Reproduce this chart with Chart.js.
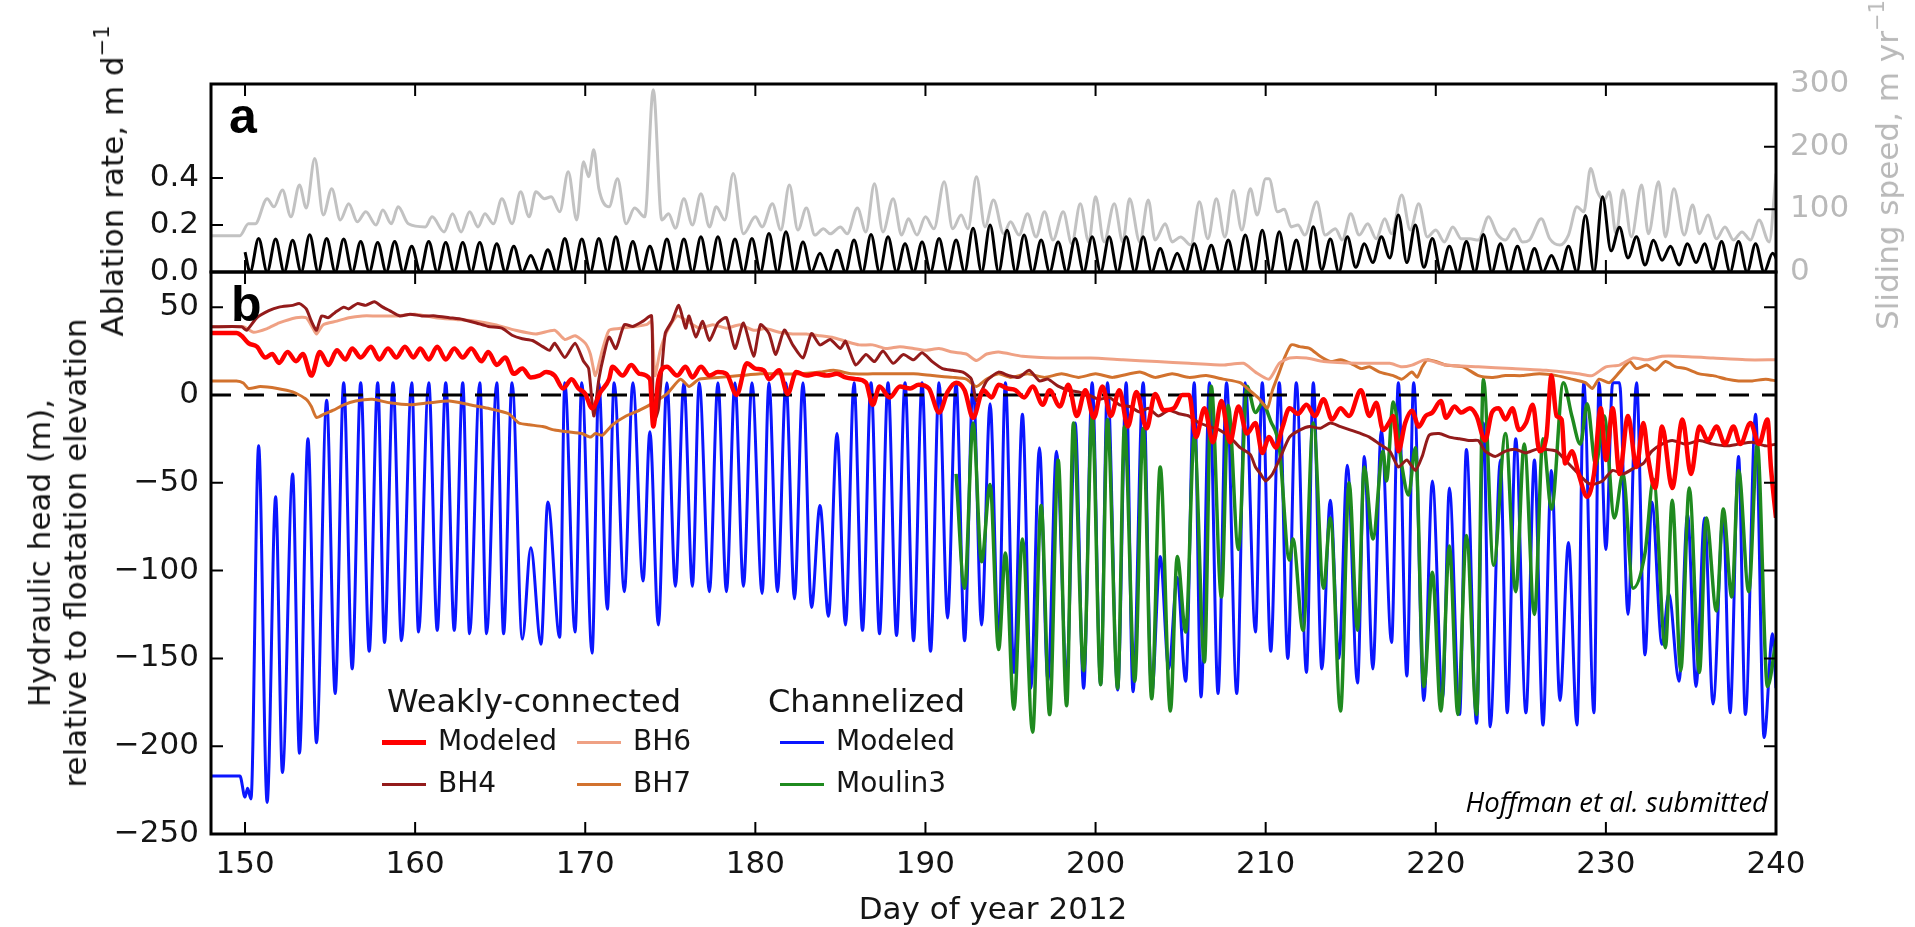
<!DOCTYPE html>
<html>
<head>
<meta charset="utf-8">
<script src="https://cdn.jsdelivr.net/npm/chart.js@4.4.1/dist/chart.umd.min.js"></script>
<style>
  body { margin: 0; background: #fff; }
  #wrap { position: relative; width: 1915px; height: 927px; overflow: hidden; font-family: 'DejaVu Sans', sans-serif; color: #151515; }
  #wrap canvas { position: absolute; left: 0; top: 0; }
  .txt { position: absolute; white-space: nowrap; }
  .rot { transform: translate(-50%, -50%) rotate(-90deg); text-align: center; }
  .rot sup { font-size: 21px; vertical-align: 14px; line-height: 0; }
  .panel { font-family: 'Liberation Sans', Arial, sans-serif; font-weight: bold; font-size: 50px; line-height: 50px; color: #000; }
  .lg { position: absolute; white-space: nowrap; line-height: 40px; }
  .sw { position: absolute; }
</style>
</head>
<body>
<div id="wrap">
  <canvas id="panelA" width="1915" height="927"></canvas>
  <canvas id="panelB" width="1915" height="927"></canvas>

  <div class="txt rot" style="left:112px; top:181px; font-size:31px;">Ablation rate, m d<sup>−1</sup></div>
  <div class="txt rot" style="left:1887px; top:165px; font-size:31px; color:#b9b9b9;">Sliding speed, m yr<sup>−1</sup></div>
  <div class="txt rot" style="left:57px; top:553px; font-size:31px; line-height:36px;">Hydraulic head (m),<br>relative to floatation elevation</div>
  <div class="txt" style="left:993px; top:908px; font-size:31px; transform:translate(-50%,-50%);">Day of year 2012</div>
  <div class="txt panel" style="left:229px; top:91px;">a</div>
  <div class="txt panel" style="left:231px; top:279px;">b</div>
  <div class="txt" style="right:147px; top:785px; font-family:'Open Sans', sans-serif; font-style:italic; font-size:27.5px; line-height:34px; color:#000;">Hoffman et al. submitted</div>
  <div id="legend"></div>
</div>

<script>
// x axis: day of year
const dayTicks = [150, 160, 170, 180, 190, 200, 210, 220, 230, 240];
const ablTicks = [0, 0.2, 0.4];
const slideTicks = [0, 100, 200, 300];
const headTicks = [-250, -200, -150, -100, -50, 0, 50];

// ablation rate (m/d): start of record, then daily maxima and the minima that follow
const ablationOnset = [[150.0, 0.085], [150.3, 0]];
const ablationPeak = [
  0.143, 0.14, 0.135, 0.158, 0.143, 0.14, 0.13, 0.126, 0.13, 0.11,
  0.13, 0.126, 0.126, 0.126, 0.12, 0.11, 0.07, 0.095, 0.143, 0.14,
  0.143, 0.15, 0.13, 0.11, 0.14, 0.14, 0.15, 0.15, 0.14,
  0.143, 0.164, 0.171, 0.128, 0.08, 0.093, 0.136, 0.16, 0.15, 0.12,
  0.128, 0.143, 0.136, 0.186, 0.2, 0.178, 0.157, 0.136, 0.128, 0.143,
  0.15, 0.15, 0.15, 0.15, 0.1, 0.08, 0.12, 0.114, 0.136, 0.157, 0.178, 0.171,
  0.136, 0.193, 0.14, 0.15, 0.12, 0.15, 0.243, 0.2, 0.143, 0.11,
  0.13, 0.16, 0.12, 0.11, 0.1, 0.07, 0.11, 0.24, 0.32, 0.19,
  0.15, 0.135, 0.11, 0.12, 0.12, 0.13, 0.13, 0.12, 0.08
];
const ablationLow = [
  0, 0, 0, 0, 0, 0, 0, 0, 0, 0,
  0, 0, 0, 0, 0, 0, 0, 0, 0, 0,
  0, 0, 0, 0, 0, 0, 0, 0, 0, 0,
  0, 0, 0, 0, 0, 0, 0, 0, 0, 0,
  0, 0, 0, 0, 0, 0, 0, 0, 0, 0,
  0, 0, 0, 0, 0, 0, 0, 0, 0, 0,
  0, 0, 0.01, 0, 0.02, 0.04, 0.06, 0.04, 0.02, 0,
  0, 0, 0, 0, 0, 0, 0, 0, 0, 0.09,
  0.06, 0.03, 0.05, 0.03, 0.04, 0.01, 0, 0, 0, 0
];

// sliding speed (m/yr)
const slidingSpeed = [
  [148, 58], [149.7, 58], [150.2, 77], [150.6, 77], [151.3, 117], [151.7, 104], [152.2, 131], [152.7, 88],
  [153.2, 139], [153.6, 102], [154.1, 181], [154.6, 91], [155.1, 133], [155.6, 83], [156.1, 109], [156.6, 80],
  [157.1, 96], [157.7, 75], [158.1, 99], [158.6, 77], [159.0, 104], [159.6, 77], [160.6, 72], [161.0, 88],
  [161.7, 64], [162.2, 93], [162.7, 64], [163.2, 96], [163.7, 72], [164.1, 93], [164.6, 77], [165.1, 117],
  [165.7, 77], [166.2, 128], [166.7, 88], [167.1, 128], [167.6, 117], [168.0, 120], [168.5, 96], [169.0, 160],
  [169.5, 83], [169.9, 176], [170.2, 152], [170.5, 195], [170.8, 133], [171.4, 104], [171.9, 149], [172.4, 77],
  [172.9, 102], [173.5, 88], [174.0, 291], [174.5, 83], [174.9, 93], [175.3, 70], [175.8, 117], [176.3, 75],
  [176.8, 125], [177.3, 72], [177.7, 104], [178.2, 83], [178.7, 157], [179.3, 61], [180.0, 88], [180.4, 72],
  [181.0, 109], [181.5, 67], [182.0, 139], [182.5, 67], [183.0, 102], [183.5, 59], [184.0, 69], [184.4, 61],
  [185.0, 72], [185.4, 61], [186.0, 102], [186.5, 64], [187.0, 141], [187.5, 64], [188.1, 117], [188.6, 59],
  [189.0, 85], [189.5, 59], [190.0, 88], [190.5, 69], [191.1, 144], [191.6, 69], [192.1, 91], [192.5, 69],
  [193.0, 152], [193.5, 72], [194.0, 115], [194.6, 61], [195.0, 80], [195.5, 59], [196.0, 93], [196.5, 56],
  [197.0, 96], [197.5, 51], [198.1, 96], [198.6, 45], [199.1, 109], [199.6, 48], [200.0, 120], [200.5, 48],
  [201.1, 109], [201.6, 48], [202.0, 117], [202.6, 48], [203.1, 115], [203.5, 51], [204.1, 77], [204.5, 48],
  [205.0, 56], [205.6, 43], [206.1, 112], [206.6, 53], [207.1, 117], [207.6, 56], [208.1, 130], [208.6, 67],
  [209.1, 133], [209.5, 91], [210.0, 149], [210.2, 149], [210.7, 96], [211.1, 100], [211.5, 72], [211.9, 75],
  [212.3, 59], [213.0, 112], [213.5, 59], [214.1, 69], [214.5, 51], [215.0, 93], [215.5, 59], [216.0, 77],
  [216.5, 53], [217.0, 85], [217.4, 61], [218.0, 123], [218.5, 67], [219.0, 109], [219.5, 56], [220.0, 67],
  [220.5, 48], [221.0, 72], [221.5, 53], [222.0, 53], [222.5, 51], [223.1, 88], [223.6, 61], [224.1, 51],
  [224.6, 69], [225.1, 48], [225.5, 51], [226.2, 85], [226.7, 53], [227.3, 43], [227.8, 59], [228.3, 104],
  [228.7, 96], [229.1, 165], [229.5, 128], [229.9, 115], [230.2, 128], [230.6, 61], [231.0, 131], [231.5, 56],
  [232.1, 139], [232.5, 61], [233.1, 144], [233.5, 56], [234.0, 133], [234.6, 59], [235.1, 107], [235.5, 61],
  [236.0, 91], [236.5, 53], [237.0, 72], [237.5, 51], [238.0, 64], [238.5, 51], [239.0, 83], [239.6, 48],
  [240.0, 157]
];

// hydraulic head (m), weakly-connected system
const weakModeled = [
  [148, 35.3], [149.5, 35.3], [149.8, 33.7], [150.2, 29.5], [150.7, 27.5], [151.2, 21.3], [151.6, 23.3], [152, 18.2],
  [152.5, 24.4], [153, 19.2], [153.4, 23.3], [153.9, 11], [154.4, 24.4], [154.9, 17.1], [155.4, 25.4], [155.9, 20.2],
  [156.3, 26.4], [156.8, 21.3], [157.4, 27.5], [157.9, 20.2], [158.4, 26.4], [158.9, 21.3], [159.4, 27.5], [159.9, 21.3],
  [160.3, 26.4], [160.8, 20.2], [161.3, 27.5], [161.8, 20.2], [162.3, 26.4], [162.8, 21.3], [163.3, 26.4], [163.9, 19.2],
  [164.3, 24.4], [164.8, 17.1], [165.3, 21.3], [165.8, 12], [166.3, 15], [166.8, 9.9], [167.3, 11], [167.7, 13],
  [168.2, 11], [168.7, 3.7], [169.2, 8.9], [169.6, 3.7], [170, 0.6], [170.4, -7.6], [170.9, 1.7], [171.4, 8.9],
  [171.6, 16], [172.2, 11], [172.7, 17], [173.2, 12], [173.8, 9], [174.0, -18], [174.3, 9], [174.8, 16],
  [175.4, 11], [175.9, 16], [176.3, 10], [176.8, 16], [177.3, 11], [177.8, 13], [178.3, 12], [178.9, 0],
  [179.5, 18], [180, 15], [180.5, 14], [180.8, 9], [181.4, 14], [181.9, 0.6], [182.4, 13], [183, 11],
  [183.6, 12], [184.2, 11], [184.8, 12], [185.3, 10], [185.9, 9], [186.5, 7], [186.9, -5.6], [187.3, 4.8],
  [187.9, -1.4], [188.5, 4.8], [189.1, 3.7], [189.6, 5.8], [190.2, 3.7], [190.8, -10], [191.3, 1.7], [191.8, 7],
  [192.3, 2.7], [192.8, -13], [193.4, 2.7], [193.9, -1.4], [194.3, 5.8], [194.8, 3.7], [195.3, 2.7], [195.8, -1.4],
  [196.3, 4.8], [196.9, -5.6], [197.3, 2.7], [197.9, -6.6], [198.4, 5.8], [198.9, -12], [199.4, 2.7], [199.9, -13],
  [200.4, 4.8], [200.9, -12], [201.4, 2.7], [201.9, -18], [202.4, 1.7], [203, -19], [203.5, 0.6], [204, -8.7],
  [204.6, -7.6], [205.1, 0], [205.5, 0], [205.9, -24], [206.4, -7.6], [206.9, -27], [207.4, -3.5], [207.9, -27],
  [208.4, -6.6], [208.9, -22], [209.4, -16], [209.8, -33], [210.2, -24], [210.6, -30], [211, -18], [211.4, -7.6],
  [211.9, -10.7], [212.4, -5.6], [212.9, -12], [213.4, -2.5], [213.9, -14], [214.4, -7.6], [214.9, -12], [215.6, 2.7],
  [216.1, -12], [216.5, -4.5], [216.9, -20], [217.3, -15], [217.5, -12], [217.8, -32], [218.2, -16], [218.6, -9],
  [219, -18], [219.4, -12], [219.8, -10], [220.3, -3.5], [220.6, -13], [221.1, -6.6], [221.5, -10], [222, -7.6],
  [222.4, -12], [222.9, -26], [223.3, -10], [223.7, -7.6], [224.1, -14], [224.5, -7.6], [224.9, -20], [225.3, -16],
  [225.7, -5.6], [226.1, -32], [226.5, -24], [226.8, 11], [227.1, -12], [227.4, -14], [227.6, -39], [228, -32],
  [228.4, -45], [228.9, -58], [229.3, -45], [229.7, -7.6], [230, -37], [230.4, -7.6], [230.8, -45], [231.3, -12],
  [231.8, -41], [232.2, -16], [232.5, -37], [232.9, -53], [233.3, -18], [233.9, -53], [234.5, -14], [235, -45],
  [235.5, -18], [236, -26], [236.5, -18], [237, -28], [237.5, -18], [237.9, -28], [238.5, -16], [239, -28],
  [239.5, -14], [239.7, -41], [240, -70]
];
const bh4 = [
  [148, 38.8], [149.8, 38.8], [150.1, 36.8], [150.7, 44], [151.4, 48], [152, 50], [152.8, 51], [153.2, 52],
  [153.6, 49], [153.9, 42], [154.2, 36.8], [154.5, 45], [154.9, 44], [155.3, 47], [155.8, 50], [156.1, 49],
  [156.6, 52], [157.1, 51], [157.6, 53], [158.1, 50], [158.5, 48], [159.1, 45], [159.7, 46], [160.4, 45],
  [161.2, 45], [162, 44], [162.8, 43], [163.6, 41], [164.3, 39], [165.1, 38], [165.7, 34], [166.3, 32],
  [166.9, 31], [167.5, 27.5], [167.9, 25.4], [168.2, 29.5], [168.8, 21.3], [169.4, 29.5], [169.9, 19.2], [170.2, 15],
  [170.5, -12], [170.8, 9], [171.1, 23], [171.4, 33], [171.8, 26.4], [172.3, 40], [172.8, 39], [173.4, 42],
  [173.9, 45], [174.0, -16], [174.3, -8], [174.7, 35], [175.1, 42], [175.5, 51], [175.9, 38], [176.1, 45],
  [176.5, 33], [176.9, 42], [177.3, 31], [177.8, 41], [178.3, 44], [178.8, 26.4], [179.3, 41], [179.9, 22],
  [180.3, 40], [180.8, 35], [181.2, 23], [181.7, 37], [182.2, 28.5], [182.8, 21], [183.3, 35], [183.8, 28.5],
  [184.4, 31.6], [185, 26.4], [185.3, 30.6], [185.9, 17], [186.5, 23], [187, 19], [187.5, 25], [188.1, 18],
  [188.7, 23], [189.3, 20], [189.8, 24], [190.4, 19], [191, 15], [191.6, 14], [192.2, 13], [192.7, 9],
  [193, -3.5], [193.6, 8], [194.3, 13], [194.9, 11], [195.5, 10], [196.1, 14], [196.7, 8], [197.2, 9],
  [197.8, 5], [198.4, 2.7], [199, 1.7], [199.6, 0], [200.2, -2.5], [200.8, -1.4], [201.4, -5.6], [202, -6.6],
  [202.6, -9.7], [203.1, -7.6], [203.7, -12], [204.3, -8.7], [204.9, -10.7], [205.5, -12], [206.1, -16], [206.7, -18],
  [207.3, -20], [207.9, -24], [208.5, -30], [209.1, -34], [209.4, -41], [209.7, -45], [210, -49], [210.4, -45],
  [210.8, -37], [211.4, -24], [212, -20], [212.6, -18], [213.2, -19], [213.8, -16], [214.4, -18], [215, -20],
  [215.6, -22], [216.1, -24], [216.7, -28], [217.3, -32], [217.8, -41], [218.3, -37], [218.8, -43], [219.2, -35],
  [219.6, -23], [220.2, -22], [220.8, -24], [221.4, -25], [222, -26], [222.5, -26], [222.9, -32], [223.5, -35],
  [224.1, -32], [224.7, -31], [225.3, -33], [225.9, -31], [226.5, -31], [227.1, -32], [227.6, -37], [228.2, -43],
  [228.8, -49], [229.2, -51], [229.8, -49], [230.4, -43], [231, -45], [231.6, -42], [232.2, -39], [232.7, -32],
  [233.3, -28], [233.9, -26], [234.7, -28], [235.5, -26], [236.3, -28], [237.1, -29], [237.8, -28], [238.6, -27],
  [239.4, -29], [240, -28]
];
const bh6 = [
  [148, 38.8], [149.9, 38.8], [150.5, 35.7], [151.3, 37.8], [152, 41], [153, 44], [153.6, 44], [154, 37.8],
  [154.2, 34.7], [154.6, 40], [155.4, 42], [156.1, 44], [156.9, 45], [157.7, 45], [158.9, 45], [160, 46],
  [161.2, 44], [162.4, 43], [163.6, 42], [164.7, 40], [165.9, 36.8], [167.1, 34.7], [168.2, 36.8], [168.8, 31.6],
  [169.4, 33.7], [170, 29.5], [170.3, 23.3], [170.6, 11], [171, 25.4], [171.4, 36.8], [172, 37.8], [172.8, 38.8],
  [173.6, 40], [173.9, 42], [174.1, 11], [174.4, 25], [174.8, 36], [175.4, 45], [176, 42], [176.7, 38],
  [177.5, 40], [178.3, 38], [179.1, 40], [179.9, 36.8], [180.6, 37.8], [181.4, 35.7], [182.2, 34.7], [183, 34.7],
  [183.8, 33.7], [184.6, 32.6], [185.3, 30.6], [186.1, 28.5], [186.9, 28.5], [187.7, 26.4], [188.5, 27.5], [189.3, 26.4],
  [190, 25.4], [190.8, 26.4], [191.6, 24.4], [192.4, 23.3], [193, 19.6], [193.6, 23.3], [194.3, 24.4], [195.7, 22],
  [197.7, 21], [199.7, 21], [201.6, 20], [203.6, 19], [205.5, 18], [207.5, 17], [208.7, 18], [209.4, 13],
  [210.2, 9], [210.8, 18], [211.4, 21], [212.4, 21], [213.4, 19], [215.4, 18], [217.3, 18], [218, 16],
  [218.6, 17], [219.4, 20], [220.6, 17], [222.5, 16], [224.5, 15], [226.5, 14], [228.4, 12], [229.2, 11],
  [230, 16], [230.8, 17], [231.6, 21], [232.4, 20], [233.3, 22], [234.3, 22], [236.3, 21], [238.2, 20],
  [240, 20]
];
const bh7 = [
  [148, 7.9], [149.5, 7.9], [149.9, 6.8], [150.2, 3.7], [150.9, 4.8], [151.9, 3.7], [152.8, 1.7], [153.6, -2.5],
  [153.9, -6.6], [154.2, -12.8], [154.7, -10.7], [155.2, -8.7], [155.8, -5.6], [156.5, -3.5], [157.5, -2.5], [158.5, -4.5],
  [159.7, -5.6], [160.8, -4.5], [162, -3.5], [163.2, -5.6], [164.3, -7.6], [165.5, -10.7], [166.1, -16], [166.7, -17],
  [167.5, -18], [168.2, -20], [169, -21], [169.8, -22], [170.3, -24], [170.6, -22], [171, -23], [171.6, -17],
  [172.4, -12], [173.2, -8.7], [174, -4.5], [174.8, 0.6], [175.6, 9], [176.1, 4.8], [176.7, 9], [177.9, 10],
  [179.1, 11], [180.3, 12], [181.4, 12], [182.6, 12], [183.8, 13], [184.6, 14], [185.7, 12], [186.9, 12],
  [188.1, 12], [189.3, 12], [190.4, 11], [191.6, 10], [192.4, 9], [193, 4.8], [193.6, 9], [194.3, 12],
  [195, 10], [196, 12], [197, 10], [198, 12], [199, 10], [200, 12], [201, 10], [202.6, 13],
  [203.5, 10], [204.5, 12], [205.5, 10], [206.5, 11], [207.5, 9], [208.5, 7], [209, 3], [209.6, -2],
  [210.1, -7.6], [210.4, 2.7], [210.8, 13], [211.1, 21], [211.5, 28.5], [212, 27.5], [212.6, 26.4], [213.2, 22],
  [213.8, 19], [214.4, 20], [215, 18], [215.6, 15], [216.1, 16], [216.7, 13], [217.5, 11], [218, 9],
  [218.6, 13], [218.9, 10], [219.2, 16], [219.5, 20], [220, 19], [220.6, 17], [221.6, 16], [222.5, 11],
  [223.3, 10], [224.1, 11], [225.1, 11], [226.1, 12], [227.1, 11], [228, 9], [228.8, 7], [229.2, 3.7],
  [229.6, 9], [230.2, 7], [230.8, 13], [231.4, 19], [231.8, 15], [232.4, 17], [232.9, 14], [233.5, 19],
  [234.1, 16], [234.7, 15], [235.5, 12], [236.3, 11], [237.1, 9], [237.8, 8], [238.6, 8], [239.4, 9],
  [240, 8]
];

// hydraulic head (m), channelized system
const channelModeled = [
  [148, -217], [149.7, -217], [150.0, -229], [150.15, -224], [150.35, -230],
  [150.8, -29], [151.3, -232], [151.8, -58], [152.2, -215], [152.8, -45], [153.2, -204], [153.7, -25], [154.2, -198],
  [154.8, -3], [155.3, -170], [155.8, 7], [156.3, -156], [156.8, 7], [157.3, -146], [157.8, 7], [158.2, -141],
  [158.7, 7], [159.2, -140], [159.8, 7], [160.2, -135], [160.8, 7], [161.3, -134], [161.8, 7], [162.3, -134],
  [162.8, 7], [163.2, -136], [163.8, 7], [164.2, -136], [164.8, 7], [165.2, -136], [165.7, 7], [166.3, -139],
  [166.8, -87], [167.4, -142], [167.8, -61], [168.5, -138], [168.8, 7], [169.4, -135], [169.8, 7], [170.4, -147],
  [170.8, 7], [171.3, -122], [171.7, 7], [172.3, -112], [172.8, 7], [173.4, -106], [173.8, -21], [174.3, -131],
  [174.8, 7], [175.3, -109], [175.8, 7], [176.3, -109], [176.7, 7], [177.3, -112], [177.8, 7], [178.3, -112],
  [178.8, 7], [179.3, -109], [179.8, 7], [180.4, -113], [180.8, 7], [181.3, -112], [181.8, 7], [182.3, -116],
  [182.8, 7], [183.3, -121], [183.8, -63], [184.3, -126], [184.8, -22], [185.3, -131], [185.8, 7], [186.3, -134],
  [186.8, 7], [187.3, -136], [187.8, 7], [188.3, -137], [188.8, 7], [189.3, -140], [189.8, 7], [190.3, -146],
  [190.8, 7], [191.3, -127], [191.8, 7], [192.3, -140], [192.8, 7], [193.3, -131], [193.8, -5], [194.3, -140],
  [194.7, 7], [195.2, -158], [195.7, -11], [196.2, -167], [196.7, -30], [197.2, -163], [197.7, -32], [198.3, -158],
  [198.8, -16], [199.3, -167], [199.8, 7], [200.3, -165], [200.7, 7], [201.3, -168], [201.8, 7], [202.2, -169],
  [202.8, 7], [203.3, -170], [203.8, -92], [204.3, -156], [204.8, -104], [205.3, -163], [205.8, 7], [206.2, -172],
  [206.7, 7], [207.2, -170], [207.7, 7], [208.3, -170], [208.8, 7], [209.4, -135], [209.8, 7], [210.3, -146],
  [210.8, 7], [211.3, -150], [211.8, 7], [212.4, -158], [212.8, 7], [213.3, -156], [213.8, -60], [214.3, -150],
  [214.8, -40], [215.4, -164], [215.8, -35], [216.3, -156], [216.8, -20], [217.4, -141], [217.8, 7], [218.3, -160],
  [218.7, 7], [219.3, -174], [219.8, -49], [220.4, -173], [220.8, -53], [221.4, -182], [221.8, -31], [222.4, -187],
  [222.8, -16], [223.2, -189], [223.8, -37], [224.2, -181], [224.7, -25], [225.3, -181], [225.8, -37], [226.3, -188],
  [226.8, -43], [227.3, -174], [227.8, -84], [228.3, -188], [228.7, 7], [229.3, -181], [229.6, 7], [230.0, -88],
  [230.4, 7], [230.8, 7], [231.3, -125], [231.8, 7], [232.3, -148], [232.7, -61], [233.3, -142], [233.7, -113],
  [234.3, -163], [234.8, -68], [235.3, -166], [235.8, -70], [236.3, -176], [236.9, -68], [237.3, -181], [237.8, -35],
  [238.2, -182], [238.8, -11], [239.3, -195], [239.8, -136], [240, -167]
];
const moulin3 = [
  [191.8, -45], [192.3, -110], [192.8, -16], [193.3, -95], [193.8, -51], [194.3, -145], [194.7, -90], [195.2, -179],
  [195.7, -82], [196.3, -192], [196.8, -63], [197.3, -182], [197.8, -37], [198.3, -177], [198.7, -16], [199.3, -157],
  [199.8, -12], [200.3, -165], [200.7, -14], [201.3, -167], [201.7, -18], [202.3, -163], [202.8, -19], [203.3, -173],
  [203.8, -41], [204.4, -180], [204.8, -92], [205.3, -135], [205.8, -24], [206.4, -152], [206.8, 5], [207.4, -115],
  [207.8, -6], [208.4, -88], [208.9, 5], [209.4, -10], [209.8, -5], [210.3, -15], [210.8, -30], [211.4, -94],
  [211.6, -82], [212.2, -134], [212.8, -16], [213.4, -110], [213.8, -70], [214.4, -180], [214.9, -50], [215.4, -134],
  [215.8, -41], [216.3, -82], [216.9, -32], [217.1, -49], [217.5, -4], [218.0, -40], [218.4, -57], [218.8, -30],
  [219.3, -166], [219.8, -101], [220.3, -180], [220.8, -86], [221.3, -182], [221.8, -80], [222.4, -182], [222.8, 9],
  [223.4, -97], [224.1, -22], [224.7, -112], [225.2, -28], [225.8, -125], [226.3, -25], [226.8, -65], [227.5, 7],
  [228.0, -12], [228.5, -28], [228.9, -5], [229.4, -40], [229.9, -12], [230.5, -70], [231.0, -45], [231.6, -110],
  [232.3, -90], [232.8, -48], [233.5, -144], [233.9, -60], [234.4, -157], [234.9, -53], [235.5, -158], [235.9, -70],
  [236.5, -123], [236.9, -65], [237.4, -115], [237.8, -43], [238.4, -112], [238.9, -28], [239.5, -166], [240, -140]
];
const floatation = [[148, 0], [240, 0]];

const toXY = rows => rows.map(([x, y]) => ({ x, y }));

const ablationPoints = toXY(ablationOnset);
ablationPeak.forEach((p, i) => {
  ablationPoints.push({ x: 150.8 + i, y: p });
  ablationPoints.push({ x: 151.3 + i, y: ablationLow[i] });
});

const tickFont = { family: 'DejaVu Sans', size: 31 };
const inkColor = '#151515';
const minus = v => (v < 0 ? '\u2212' + Math.abs(v) : String(v));
const fixTicks = list => scale => { scale.ticks = list.map(v => ({ value: v })); };

// frame and inward ticks on all four sides, matplotlib style
const frameTicks = {
  id: 'frameTicks',
  afterDatasetsDraw(chart, args, opts) {
    const { ctx, chartArea: a, scales } = chart;
    const len = 12;
    ctx.save();
    ctx.strokeStyle = '#000';
    ctx.lineWidth = 2;
    ctx.beginPath();
    dayTicks.forEach(d => {
      const x = scales.x.getPixelForValue(d);
      ctx.moveTo(x, a.top); ctx.lineTo(x, a.top + len);
      ctx.moveTo(x, a.bottom); ctx.lineTo(x, a.bottom - len);
    });
    opts.left.forEach(v => {
      const y = scales[opts.leftAxis].getPixelForValue(v);
      ctx.moveTo(a.left, y); ctx.lineTo(a.left + len, y);
    });
    opts.right.forEach(v => {
      const y = scales[opts.rightAxis].getPixelForValue(v);
      ctx.moveTo(a.right, y); ctx.lineTo(a.right - len, y);
    });
    ctx.stroke();
    ctx.lineWidth = 3;
    ctx.strokeRect(a.left, a.top, a.right - a.left, a.bottom - a.top);
    ctx.restore();
  }
};

const lineStyle = (color, width, extra) => Object.assign({
  borderColor: color, backgroundColor: color, borderWidth: width,
  pointRadius: 0, fill: false, tension: 0
}, extra || {});
const smooth = { cubicInterpolationMode: 'monotone' };

// panel a: ablation and sliding speed
new Chart(document.getElementById('panelA'), {
  type: 'line',
  data: {
    datasets: [
      Object.assign({ label: 'Ablation rate', data: ablationPoints, yAxisID: 'yAbl' }, lineStyle('#000', 3, smooth)),
      Object.assign({ label: 'Sliding speed', data: toXY(slidingSpeed), yAxisID: 'ySlide' }, lineStyle('#c2c2c2', 3, smooth))
    ]
  },
  options: {
    responsive: false, animation: false, devicePixelRatio: 1,
    layout: { padding: { top: 84, bottom: 927 - 272, left: 0, right: 0 } },
    plugins: {
      legend: { display: false }, tooltip: { enabled: false },
      frameTicks: { leftAxis: 'yAbl', left: ablTicks, rightAxis: 'ySlide', right: slideTicks }
    },
    scales: {
      x: { type: 'linear', min: 148, max: 240, display: false },
      yAbl: {
        type: 'linear', position: 'left', min: 0, max: 0.8,
        afterFit: s => { s.width = 211; },
        afterBuildTicks: fixTicks(ablTicks),
        grid: { display: false, drawTicks: false }, border: { display: false },
        ticks: { padding: 12, font: tickFont, color: inkColor, autoSkip: false, callback: v => v.toFixed(1) }
      },
      ySlide: {
        type: 'linear', position: 'right', min: 0, max: 300,
        afterFit: s => { s.width = 1915 - 1776; },
        afterBuildTicks: fixTicks(slideTicks),
        grid: { display: false, drawTicks: false }, border: { display: false },
        ticks: { padding: 14, font: tickFont, color: '#b9b9b9', autoSkip: false }
      }
    }
  },
  plugins: [frameTicks]
});

// panel b: hydraulic head; datasets listed in legend order, `order` sets the stacking
const chartB = new Chart(document.getElementById('panelB'), {
  type: 'line',
  data: {
    datasets: [
      Object.assign({ label: 'Modeled', group: 'Weakly-connected', order: 0, data: toXY(weakModeled) }, lineStyle('#ff0000', 4.5, smooth)),
      Object.assign({ label: 'BH4', group: 'Weakly-connected', order: 1, data: toXY(bh4) }, lineStyle('#931b1b', 3, { tension: 0.2 })),
      Object.assign({ label: 'BH6', group: 'Weakly-connected', order: 2, data: toXY(bh6) }, lineStyle('#efa184', 3, { tension: 0.2 })),
      Object.assign({ label: 'BH7', group: 'Weakly-connected', order: 3, data: toXY(bh7) }, lineStyle('#d2722e', 3, { tension: 0.2 })),
      Object.assign({ label: 'Modeled', group: 'Channelized', order: 6, data: toXY(channelModeled) }, lineStyle('#0b16ff', 3, smooth)),
      Object.assign({ label: 'Moulin3', group: 'Channelized', order: 5, data: toXY(moulin3) }, lineStyle('#1f8a1f', 3.5, smooth)),
      Object.assign({ label: 'floatation', order: 4, data: toXY(floatation) }, lineStyle('#000', 3, { borderDash: [20, 13] }))
    ]
  },
  options: {
    responsive: false, animation: false, devicePixelRatio: 1,
    layout: { padding: { top: 272, bottom: 927 - 834 - 60, left: 0, right: 1915 - 1776 } },
    plugins: {
      legend: { display: false }, tooltip: { enabled: false },
      frameTicks: { leftAxis: 'y', left: headTicks, rightAxis: 'y', right: headTicks }
    },
    scales: {
      x: {
        type: 'linear', position: 'bottom', min: 148, max: 240,
        afterFit: s => { s.height = 60; },
        afterBuildTicks: fixTicks(dayTicks),
        grid: { display: false, drawTicks: false }, border: { display: false },
        ticks: { padding: 12, font: tickFont, color: inkColor, autoSkip: false, maxRotation: 0 }
      },
      y: {
        type: 'linear', position: 'left', min: -250, max: 70,
        afterFit: s => { s.width = 211; },
        afterBuildTicks: fixTicks(headTicks),
        grid: { display: false, drawTicks: false }, border: { display: false },
        ticks: { padding: 12, font: tickFont, color: inkColor, autoSkip: false, callback: minus }
      }
    }
  },
  plugins: [frameTicks]
});

// legend built from the panel b datasets
(function buildLegend() {
  const box = document.getElementById('legend');
  const groups = [
    { name: 'Weakly-connected', left: 382, titleLeft: 387 },
    { name: 'Channelized', left: 780, titleLeft: 768 }
  ];
  const titleY = 701, rowY = [742, 784], colStep = 195;
  groups.forEach(g => {
    const title = document.createElement('div');
    title.className = 'lg';
    title.textContent = g.name;
    title.style.cssText = `left:${g.titleLeft}px; top:${titleY - 20}px; font-size:32px;`;
    box.appendChild(title);
    const items = chartB.data.datasets.filter(d => d.group === g.name);
    items.forEach((d, i) => {
      const col = Math.floor(i / 2), row = i % 2;
      const x = g.left + col * colStep;
      const h = d.borderWidth >= 4 ? 5 : 3;
      const sw = document.createElement('div');
      sw.className = 'sw';
      sw.style.cssText = `left:${x}px; top:${rowY[row] - h / 2}px; width:44px; height:${h}px; background:${d.borderColor};`;
      box.appendChild(sw);
      const t = document.createElement('div');
      t.className = 'lg';
      t.textContent = d.label;
      t.style.cssText = `left:${x + 56}px; top:${rowY[row] - 21}px; font-size:28px;`;
      box.appendChild(t);
    });
  });
})();
</script>
</body>
</html>
